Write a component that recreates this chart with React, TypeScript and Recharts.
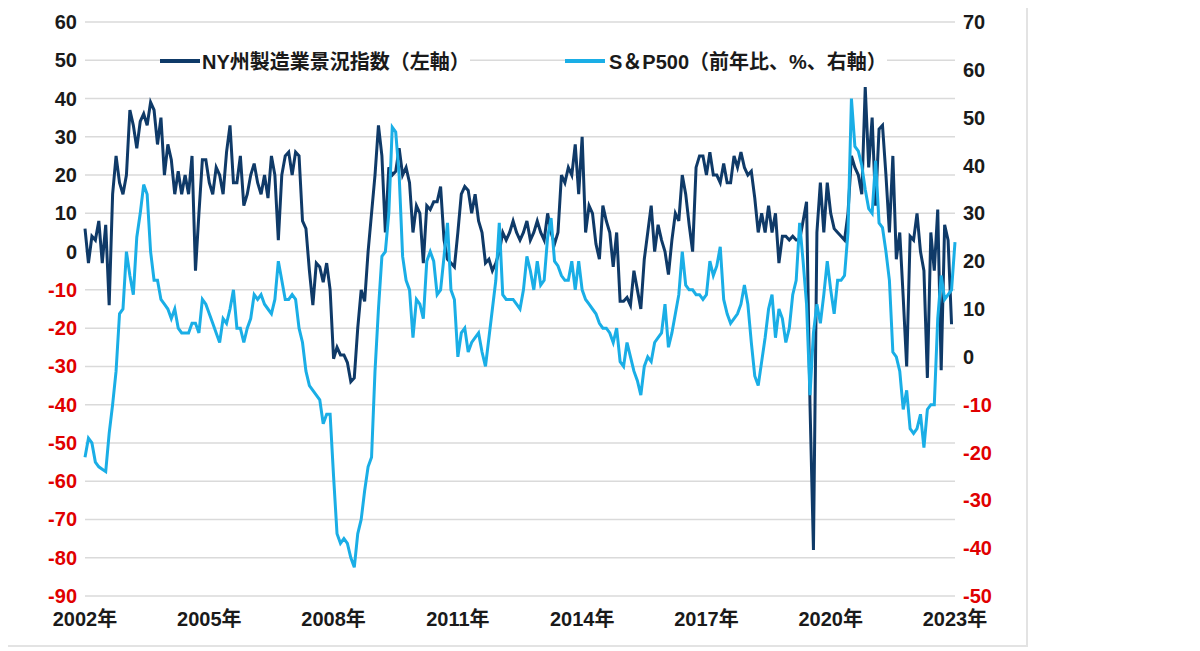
import { LineChart, Line, XAxis, YAxis, CartesianGrid } from "recharts";

// monthly from 2002-01 (index 0)
const nyIndex: (number | null)[] = [
  6, -3, 4, 3, 8, -3, 7, -14, 15, 25, 18, 15,
  20, 37, 33, 27, 34, 36, 33, 39, 37, 28, 35, 20,
  28, 24, 15, 21, 15, 20, 15, 25, -5, 10, 24, 24,
  18, 15, 22, 20, 15, 26, 33, 18, 18, 25, 12, 15,
  20, 23, 18, 15, 20, 14, 25, 20, 3, 20, 25, 26,
  20, 26, 25, 8, 6, -5, -14, -3, -4, -8, -3, -10,
  -28, -25, -27, -27, -29, -34, -33, -20, -10, -13, 0, 10,
  20, 33, 25, 5, 22, 20, 21, 27, 20, 22, 18, 5,
  12, 10, -3, 12, 11, 13, 13, 17, 3, -2, -3, -4,
  5, 15, 17, 16, 10, 15, 8, 5, -3, -2, -5, -3,
  0, 5, 3, 5, 8, 5, 3, 5, 8, 3, 5, 8,
  5, 3, 10, 5, 2, 5, 20, 18, 22, 20, 28, 15,
  30, 5, 12, 10, 2, -2, 12, 8, 5, -4, 5, -13,
  -13, -12, -14, -5, -10, -15, -2, 5, 12, 0, 7, 3,
  0, -6, 3, 10, 8, 20, 15, 7, 0, 22, 25, 25,
  20, 26, 20, 20, 18, 23, 18, 18, 25, 22, 26, 22,
  20, 21, 14, 5, 10, 5, 12, 5, 10, -3, 4, 4,
  3, 4, 3, 3, 8, 13, -40, -78, 5, 18, 5, 18,
  10, 6, 5, 4, 3, 10, 25, 22, 20, 15, 43, 22,
  35, 12, 32, 33, 20, 5, 25, -2, 5, -12, -30, 4,
  3, 10, 0, -5, -33, 5, -5, 11, -31, 7, 3, -19,
  null,
];

const spYoY: number[] = [
  -21, -17, -18, -22, -23, -23.5, -24, -16, -10, -3, 9, 10,
  22, 17, 13, 25, 30, 36, 34, 22, 16, 16, 12, 11,
  10, 8, 10, 6, 5, 5, 5, 7, 7, 5, 12, 11,
  9, 7, 5, 3, 8, 7, 10, 14, 6, 6, 3, 6,
  8, 13, 12, 13, 11, 10, 9, 12, 20, 16, 12, 12,
  13, 12, 6, 3, -3, -6, -7, -8, -9, -14, -12, -12,
  -25, -37, -39, -38, -39, -42, -44, -37, -34, -28, -23, -21,
  -3, 10, 21, 22, 30, 48, 47, 38, 21, 16, 14, 4,
  12, 11, 8, 20, 22, 20, 13, 14, 21, 28, 14, 12,
  0, 5, 6, 1, 3, 4, 5, 1, -2, 4, 10, 16,
  28, 13, 12, 12, 12, 11, 10, 14, 21, 18, 14, 20,
  15, 16, 25, 29, 20, 19, 17, 16, 16, 20, 14, 20,
  14, 12, 11, 10, 9, 7, 6, 6, 5, 3, 6, -1,
  -2, 3, 0, -3, -5, -8, -2, 0, -1, 3, 4, 5,
  11, 2, 5, 9, 13, 22, 15, 14, 14, 13, 13, 12,
  13, 20, 17, 19, 23, 12, 9, 7, 8, 9, 11, 15,
  11, 3, -4, -6, -1, 4, 10, 13, 4, 10, 8, 3,
  6, 13, 16, 28, 20, 11, -8, 5, 11, 7, 13, 20,
  14, 9, 16, 16, 17, 26, 54, 44, 43, 40, 35, 31,
  30, 41, 28, 27, 22, 16, 1, 0, -3, -11, -7, -15,
  -16, -15, -12, -19, -11, -10, -10, 8, 17, 12, 13, 14,
  24,
];

const yearTicks = [0, 36, 72, 108, 144, 180, 216, 252];
const leftTicks = [60, 50, 40, 30, 20, 10, 0, -10, -20, -30, -40, -50, -60, -70, -80, -90];
const rightTicks = [70, 60, 50, 40, 30, 20, 10, 0, -10, -20, -30, -40, -50];

const data = spYoY.map((sp, i) => ({ i, ny: nyIndex[i], sp }));

const FONT = '"Liberation Sans", Arial, "Noto Sans CJK JP", sans-serif';
const DARK = "#0f3a68";
const LIGHT = "#1aaee6";

const ValueTick = ({ x, y, payload, textAnchor }: any) => (
  <text
    x={x}
    y={y}
    dy={7}
    textAnchor={textAnchor}
    fontSize={20}
    fontWeight="bold"
    fontFamily={FONT}
    fill={payload.value < 0 ? "#e00000" : "#1a1a1a"}
  >
    {payload.value}
  </text>
);

const YearTick = ({ x, y, payload }: any) => (
  <text x={x} y={y} dy={22} textAnchor="middle" fontSize={20} fontWeight="bold" fontFamily={FONT} fill="#1a1a1a">
    {2002 + payload.value / 12}年
  </text>
);

const legendStyle = { position: "absolute" as const, top: 38, display: "flex", alignItems: "center", background: "#fff" };

export default function App() {
  return (
    <div
      style={{
        position: "relative",
        width: 1018,
        height: 637,
        borderRight: "2px solid #e3e3e3",
        borderBottom: "2px solid #e3e3e3",
        fontFamily: FONT,
        fontWeight: "bold",
        fontSize: 20,
        color: "#1a1a1a",
      }}
    >
      <LineChart width={1010} height={640} data={data} margin={{ top: 14, right: 8, left: 12, bottom: 12 }}>
        <CartesianGrid yAxisId="left" vertical={false} stroke="#dadada" strokeWidth={1.5} />
        <XAxis
          dataKey="i"
          type="number"
          domain={[0, 252]}
          ticks={yearTicks}
          tick={<YearTick />}
          axisLine={false}
          tickLine={false}
          height={40}
        />
        <YAxis
          yAxisId="left"
          domain={[-90, 60]}
          ticks={leftTicks}
          interval={0}
          tick={<ValueTick />}
          axisLine={false}
          tickLine={false}
          width={65}
        />
        <YAxis
          yAxisId="right"
          orientation="right"
          domain={[-50, 70]}
          ticks={rightTicks}
          interval={0}
          tick={<ValueTick />}
          axisLine={false}
          tickLine={false}
          width={55}
        />
        <Line yAxisId="left" dataKey="ny" stroke={DARK} strokeWidth={3} dot={false} isAnimationActive={false} />
        <Line yAxisId="right" dataKey="sp" stroke={LIGHT} strokeWidth={3} dot={false} isAnimationActive={false} />
      </LineChart>
      <div style={{ ...legendStyle, left: 152 }}>
        <span style={{ display: "inline-block", width: 40, height: 4, background: DARK, marginRight: 2 }} />
        NY州製造業景況指数（左軸）
      </div>
      <div style={{ ...legendStyle, left: 557 }}>
        <span style={{ display: "inline-block", width: 40, height: 4, background: LIGHT, marginRight: 4 }} />
        S＆P500（前年比、%、右軸）
      </div>
    </div>
  );
}
